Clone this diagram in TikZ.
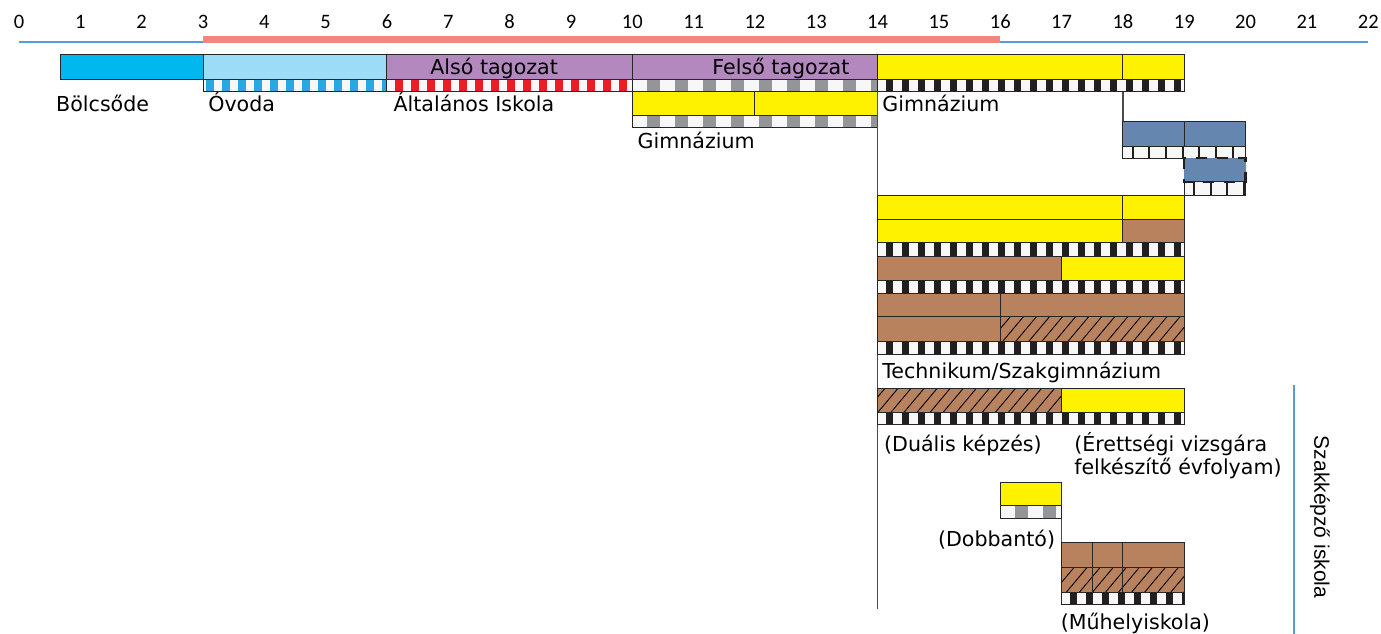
\documentclass[tikz,border=0pt]{standalone}
\usepackage{fontspec}
\setmainfont{DejaVu Sans}
\newfontfamily\szamfont{Carlito}
\newfontfamily\oldalfont{Liberation Sans}
\usetikzlibrary{patterns.meta}

\definecolor{bolcsi}{RGB}{0,183,238}
\definecolor{ovi}{RGB}{157,220,246}
\definecolor{ovicsik}{RGB}{41,168,224}
\definecolor{lila}{RGB}{178,136,190}
\definecolor{piros}{RGB}{237,28,36}
\definecolor{szurke}{RGB}{147,149,152}
\definecolor{sarga}{RGB}{255,242,0}
\definecolor{fekete}{RGB}{35,31,32}
\definecolor{acel}{RGB}{101,135,175}
\definecolor{barna}{RGB}{185,130,95}
\definecolor{tengely}{RGB}{91,155,213}
\definecolor{rozsa}{RGB}{242,135,128}

\tikzset{
  sav/.style={draw=black!85, line width=0.5pt},
  sraf/.style={draw=black!85, line width=0.5pt, preaction={fill=barna},
    pattern={Lines[angle=50, distance=5pt, line width=0.45pt]}, pattern color=black},
  csik/.style={draw=black!85, line width=0.5pt, fill=black!3,
    path picture={\draw[#1] (path picture bounding box.west) -- (path picture bounding box.east);}},
  kekcsik/.style={ovicsik, line width=20pt, dash pattern=on 4pt off 4pt, dash phase=6.5pt},
  piroscsik/.style={piros, line width=20pt, dash pattern=on 4pt off 4pt, dash phase=4pt},
  szurkecsik/.style={szurke, line width=20pt, dash pattern=on 6.5pt off 7.5pt, dash phase=6.5pt},
  feketecsik/.style={fekete, line width=20pt, dash pattern=on 3.5pt off 4.5pt, dash phase=4pt},
  vonalcsik/.style={fekete, line width=20pt, dash pattern=on 1pt off 7.35pt, dash phase=4pt},
  felirat/.style={anchor=base west, inner sep=0pt, font=\fontsize{10.3}{11.65}\selectfont},
  osszekoto/.style={black!70, line width=0.6pt}
}

\begin{document}
\begin{tikzpicture}[x=30.665pt, y=-0.5pt]
  \useasboundingbox (-0.31,0) rectangle (22.208,634);

  % Tengely
  \draw[tengely, line width=0.7pt] (0,42) -- (22,42);
  \draw[rozsa, line width=3.7pt] (3,39.7) -- (16,39.7);
  \foreach \i in {0,...,22}
    \node[anchor=base, inner sep=0pt, font=\szamfont\fontsize{10.25}{12}\selectfont] (ev\i) at (\i,28.3) {\i};

  % Bal oldal
  \draw[sav, fill=bolcsi] (0.67,54.3) rectangle (3,79.3);
  \draw[sav, fill=ovi] (3,54.3) rectangle (6,79.3);
  \draw[csik=kekcsik] (3,79.3) rectangle (6,91);
  \draw[sav, fill=lila] (6,54.3) rectangle (10,79.3);
  \draw[csik=piroscsik] (6,79.3) rectangle (10,91);
  \draw[sav, fill=lila] (10,54.3) rectangle (14,79.3);
  \draw[csik=szurkecsik] (10,79.3) rectangle (14,91);
  \draw[sav, fill=sarga] (10,91) rectangle (12,115);
  \draw[sav, fill=sarga] (12,91) rectangle (14,115);
  \draw[csik=szurkecsik] (10,115) rectangle (14,127.7);

  \node[felirat] (also) at (6.7,74.3) {Alsó tagozat};
  \node[felirat] (felso) at (11.3,74.3) {Felső tagozat};
  \node[felirat] (bolcsode) at (0.6,111.7) {Bölcsőde};
  \node[felirat] (ovoda) at (3.08,111.7) {Óvoda};
  \node[felirat] (altalanos) at (6.1,111.7) {Általános Iskola};
  \node[felirat] (gimn8) at (10.08,148) {Gimnázium};

  % Osszekotok
  \coordinate (tengely14a) at (14,91);
  \coordinate (tengely14b) at (14,609);
  \coordinate (gimn4le) at (18,91.3);
  \coordinate (nyelvi) at (18,121.7);
  \coordinate (dobbantole) at (17,518.3);
  \coordinate (muhelyfel) at (17,542.7);
  \draw[osszekoto] (tengely14a) -- (tengely14b);
  \draw[osszekoto] (gimn4le) -- (nyelvi);
  \draw[osszekoto] (dobbantole) -- (muhelyfel);

  % Gimnazium
  \draw[sav, fill=sarga] (14,54.3) rectangle (18,79.3);
  \draw[sav, fill=sarga] (18,54.3) rectangle (19,79.3);
  \draw[csik=feketecsik] (14,79.3) rectangle (19,91.3);
  \node[felirat] (gimn4) at (14.07,111.7) {Gimnázium};

  \draw[sav, fill=acel] (18,121.7) rectangle (19,146);
  \draw[sav, fill=acel] (19,121.7) rectangle (20,146);
  \draw[csik=vonalcsik] (18,146) rectangle (20,158);
  \fill[acel] (19,158) rectangle (20,181.7);
  \draw[csik=vonalcsik] (19,181.7) rectangle (20,195);
  \draw[fekete, line width=1.2pt, dash pattern=on 5.5pt off 5pt] (19,158) rectangle (20,181.7);

  % Technikum
  \draw[sav, fill=sarga] (14,195) rectangle (18,219.3);
  \draw[sav, fill=sarga] (18,195) rectangle (19,219.3);
  \draw[sav, fill=sarga] (14,219.3) rectangle (18,242.7);
  \draw[sav, fill=barna] (18,219.3) rectangle (19,242.7);
  \draw[csik=feketecsik] (14,242.7) rectangle (19,256);
  \draw[sav, fill=barna] (14,256) rectangle (17,280);
  \draw[sav, fill=sarga] (17,256) rectangle (19,280);
  \draw[csik=feketecsik] (14,280) rectangle (19,293);
  \draw[sav, fill=barna] (14,293) rectangle (16,316.7);
  \draw[sav, fill=barna] (16,293) rectangle (19,316.7);
  \draw[sav, fill=barna] (14,316.7) rectangle (16,341);
  \draw[sraf] (16,316.7) rectangle (19,341);
  \draw[csik=feketecsik] (14,341) rectangle (19,354);
  \node[felirat] (technikum) at (14.07,378.3) {Technikum/Szakgimnázium};

  % Szakkepzo iskola
  \draw[sraf] (14,388.3) rectangle (17,412.3);
  \draw[sav, fill=sarga] (17,388.3) rectangle (19,412.3);
  \draw[csik=feketecsik] (14,412.3) rectangle (19,424.3);
  \node[felirat] (dualis) at (14.1,451) {(Duális képzés)};
  \node[felirat, align=left] (erettsegi) at (17.2,474.3) {(Érettségi vizsgára\\felkészítő évfolyam)};

  \draw[sav, fill=sarga] (16,482.3) rectangle (17,505.7);
  \draw[csik=szurkecsik] (16,505.7) rectangle (17,518.3);
  \node[felirat, anchor=base east] (dobbanto) at (16.9,546) {(Dobbantó)};

  \draw[sav, fill=barna] (17,542.7) rectangle (17.5,567.3);
  \draw[sav, fill=barna] (17.5,542.7) rectangle (18,567.3);
  \draw[sav, fill=barna] (18,542.7) rectangle (19,567.3);
  \draw[sraf] (17,567.3) rectangle (17.5,592.3);
  \draw[sraf] (17.5,567.3) rectangle (18,592.3);
  \draw[sraf] (18,567.3) rectangle (19,592.3);
  \draw[csik=feketecsik] (17,592.3) rectangle (19,604.3);
  \node[felirat] (muhely) at (16.98,629) {(Műhelyiskola)};

  \draw[tengely, line width=1pt] (20.79,385) -- (20.79,634);
  \node[rotate=-90, inner sep=0pt, font=\oldalfont\fontsize{10.5}{12}\selectfont] (szakkepzo) at (21.21,517) {Szakképző iskola};
\end{tikzpicture}
\end{document}
